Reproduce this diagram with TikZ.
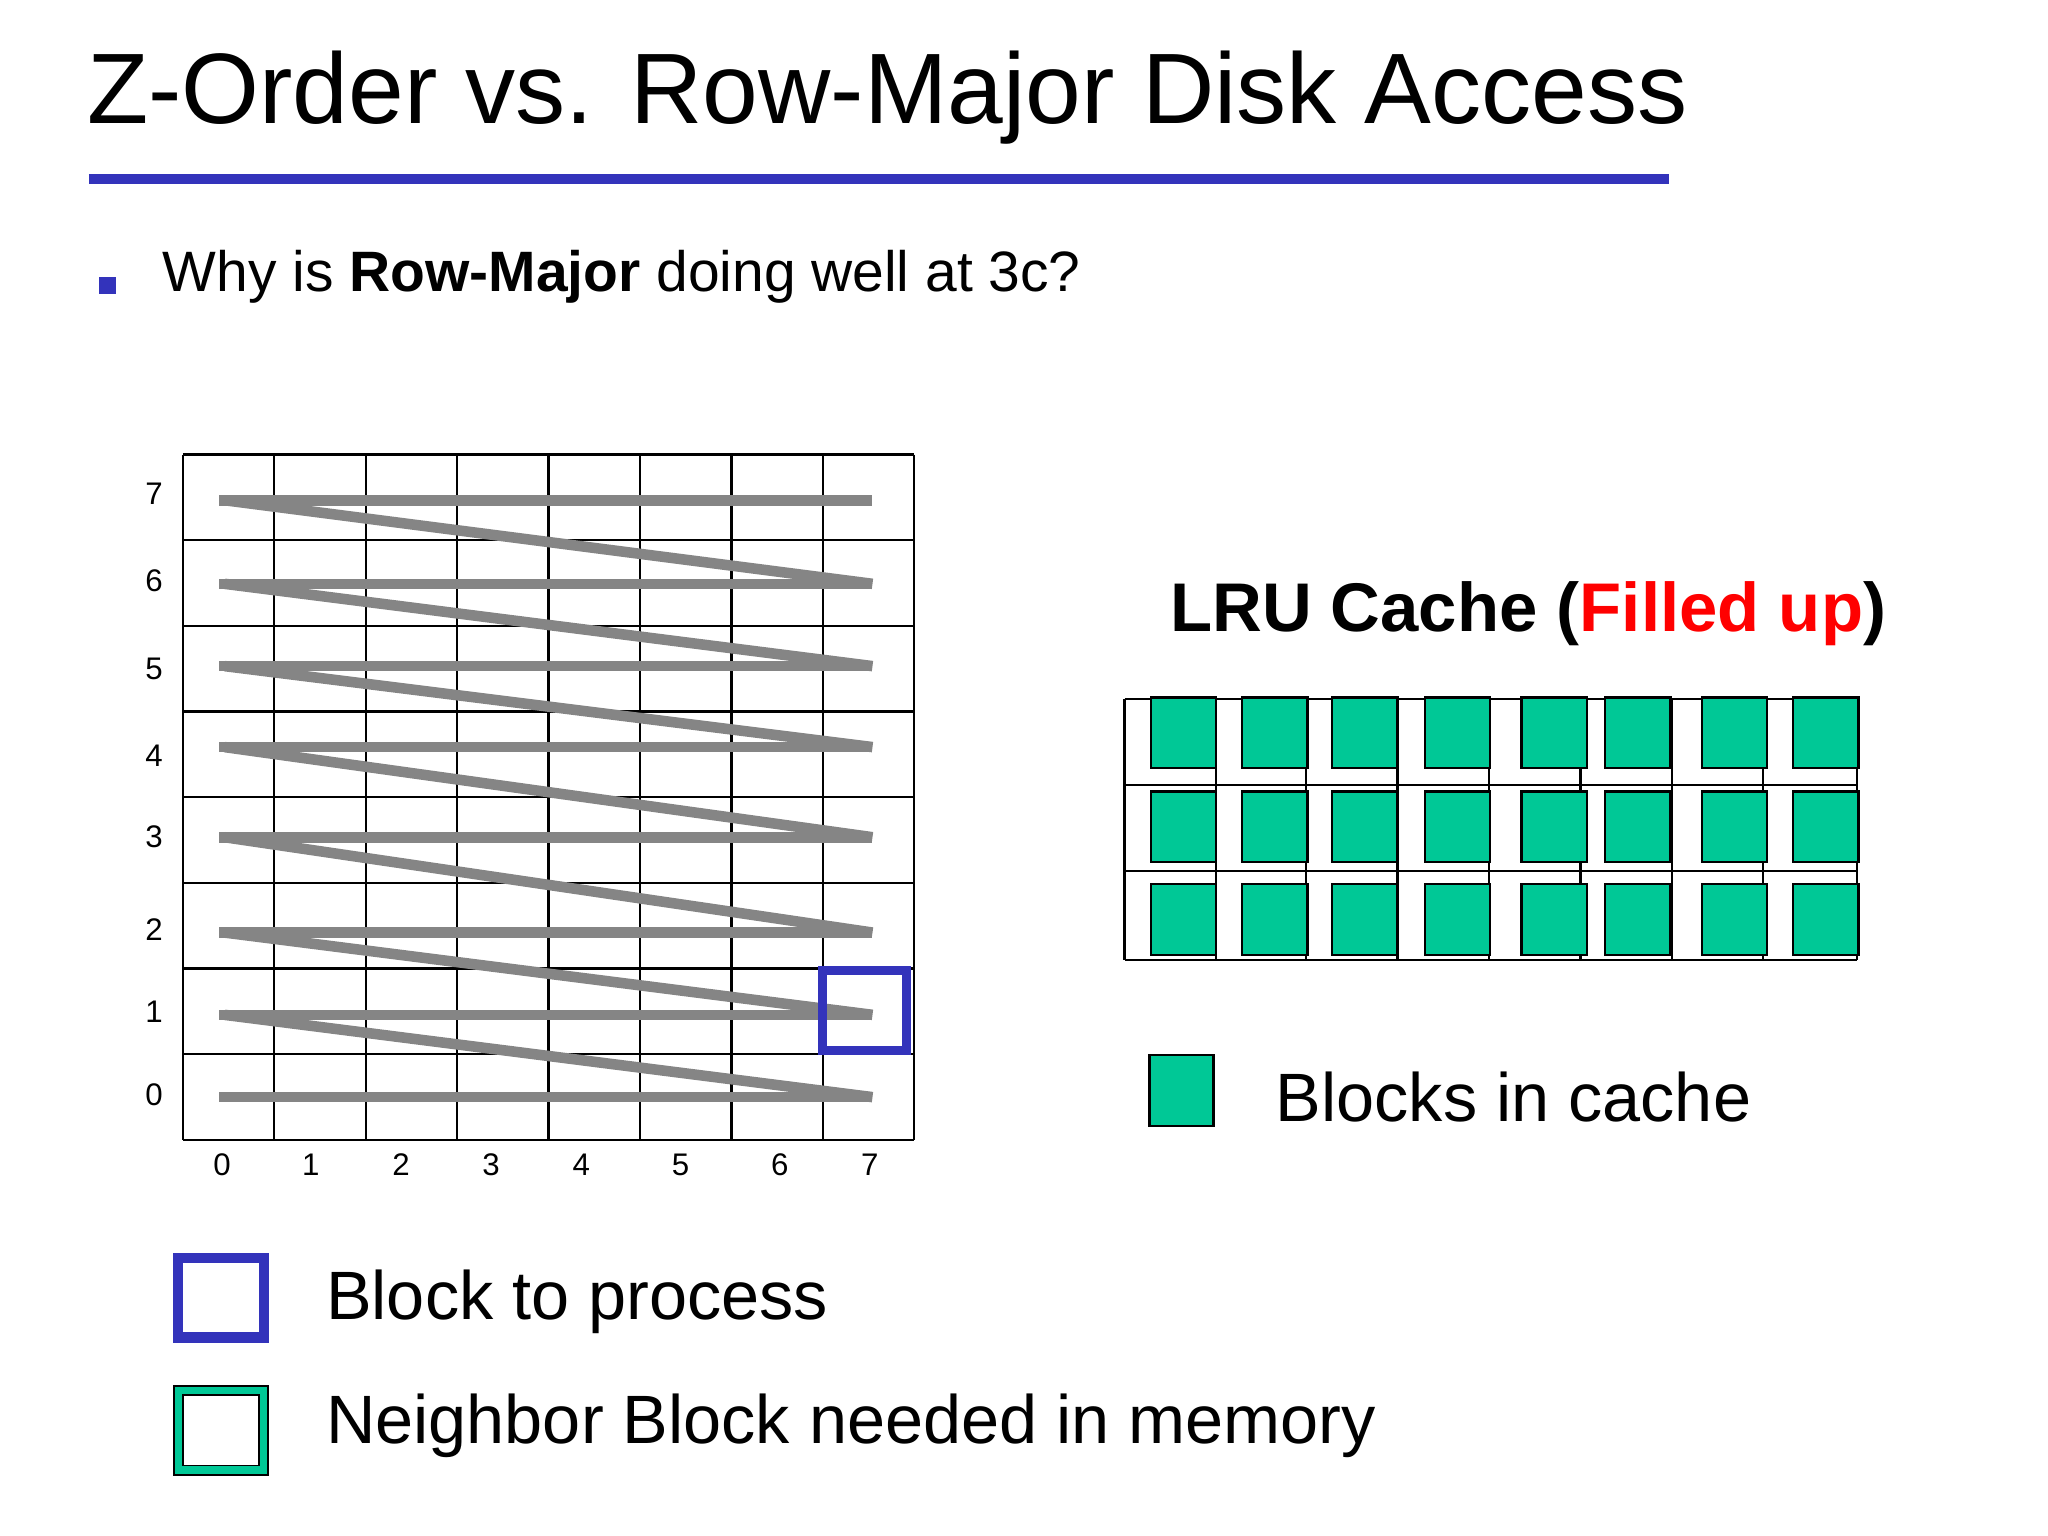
\documentclass[tikz,border=0pt]{standalone}
\usepackage{fontspec}
\setmainfont{Liberation Sans}
\begin{document}
\begin{tikzpicture}[x=0.01cm,y=-0.01cm,
  zig/.style={line width=2.3pt,draw=black!48},
  grd/.style={draw=black,line width=0.5pt},
  ax/.style={font=\fontsize{6.8}{8}\selectfont},
  lg/.style={anchor=west,inner sep=0pt,font=\fontsize{14.9}{18}\selectfont}]
\definecolor{tblue}{HTML}{3333BB}
\definecolor{tgreen}{HTML}{00C896}
\tikzset{gsq/.style={draw=black,fill=tgreen,line width=0.5pt}}
\useasboundingbox (0,0) rectangle (1568,1176);
\node[anchor=west,inner sep=0pt,font=\fontsize{21.8}{26}\selectfont] (title) at (66,75) {Z-Order vs. Row-Major Disk Access};
\draw[tblue,line width=2pt] (68,137) -- (1278,137);
\fill[tblue] (76,212) rectangle (89,225);
\node[anchor=west,inner sep=0pt,font=\fontsize{12.4}{15}\selectfont] (q) at (124,212) {Why is \textbf{Row-Major} doing well at 3c?};
% grid
\foreach \i in {0,...,8} \draw[grd] (140+70*\i,348) -- (140+70*\i,873);
\foreach \j in {0,...,8} \draw[grd] (140,348+65.6*\j) -- (700,348+65.6*\j);
\foreach \l/\y in {7/378,6/445,5/512,4/579,3/641,2/712,1/775,0/838}
  \node[ax] (r\l) at (118,\y) {\l};
\foreach \l/\x in {0/170,1/238,2/307,3/376,4/445,5/521,6/597,7/666}
  \node[ax] (c\l) at (\x,892) {\l};
% zigzag
\foreach \r/\y in {7/383,6/447,5/510,4/572,3/641,2/714,1/777,0/840}
  \draw[zig] (168,\y) -- (668,\y);
\foreach \a/\b in {383/447,447/510,510/572,572/641,641/714,714/777,777/840}
  \draw[zig] (172,\a) -- (668,\b);
\draw[tblue,line width=2pt] (630,743) rectangle (694,804);
% cache
\node[font=\bfseries\fontsize{15}{18}\selectfont] (lru) at (1170,470) {LRU Cache (\textcolor{red}{Filled up})};
\foreach \x in {861,931,1000,1070,1140,1210,1280,1350,1422} \draw[grd] (\x,535) -- (\x,735);
\foreach \y in {535,601,667,735} \draw[grd] (861,\y) -- (1422,\y);
\foreach \x in {881,951,1020,1091,1165,1229,1303,1373}
  \foreach \y in {534,606,677}
    \draw[gsq] (\x,\y) rectangle ++(50,54);
\draw[gsq] (880,808) rectangle (929,862);
\node[lg] (bic) at (976,840) {Blocks in cache};
% legend
\draw[tblue,line width=2.2pt,fill=white] (136,963) rectangle (202,1024);
\node[lg] (btp) at (249,997) {Block to process};
\draw[tgreen,line width=2.2pt,fill=white] (136,1064) rectangle (202,1126);
\draw[black,line width=0.4pt] (133,1061) rectangle (205,1129);
\draw[black,line width=0.4pt] (140,1068) rectangle (198,1122);
\node[lg] (nb) at (249,1092) {Neighbor Block needed in memory};
\end{tikzpicture}
\end{document}
